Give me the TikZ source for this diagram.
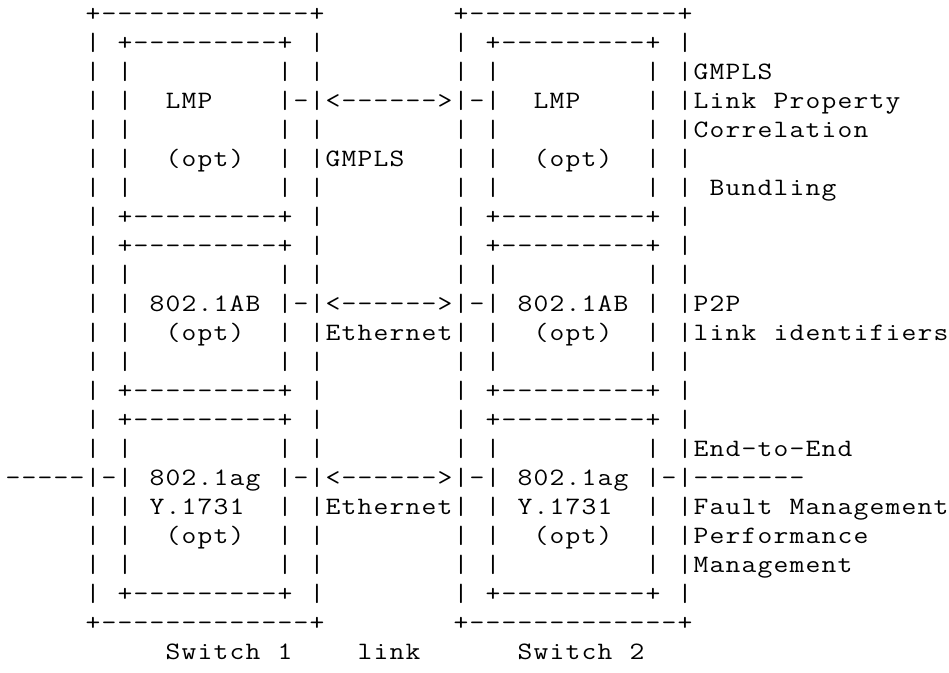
\documentclass[tikz,border=0pt]{standalone}
\usepackage{tikz}
\usepackage{graphicx}
\newcommand\cellbox[1]{\makebox[16pt][c]{\scalebox{1.15}[1]{#1}}}
\def\cellsA#1{\ifx#1\relax\else\cellbox{#1}\expandafter\cellsA\fi}
\newcommand\cells[1]{\cellsA#1\relax}
\tikzset{asc/.style={anchor=base west,inner sep=0pt,outer sep=0pt,font=\ttfamily\fontsize{25}{29}\selectfont}}
\begin{document}
\begin{tikzpicture}[x=1pt,y=1pt]
\useasboundingbox[fill=white] (0,-672) rectangle (949,0);
\node[asc] (r0)  at (5,-21)  {\cells{~~~~~+-------------+~~~~~~~~+-------------+}};
\node[asc] (r1)  at (5,-50)  {\cells{~~~~~|~+---------+~|~~~~~~~~|~+---------+~|}};
\node[asc] (r2)  at (5,-79)  {\cells{~~~~~|~|~~~~~~~~~|~|~~~~~~~~|~|~~~~~~~~~|~|GMPLS}};
\node[asc] (r3)  at (5,-108) {\cells{~~~~~|~|~~LMP~~~~|-|<------>|-|~~LMP~~~~|~|Link~Property}};
\node[asc] (r4)  at (5,-137) {\cells{~~~~~|~|~~~~~~~~~|~|~~~~~~~~|~|~~~~~~~~~|~|Correlation}};
\node[asc] (r5)  at (5,-166) {\cells{~~~~~|~|~~(opt)~~|~|GMPLS~~~|~|~~(opt)~~|~|}};
\node[asc] (r6)  at (5,-195) {\cells{~~~~~|~|~~~~~~~~~|~|~~~~~~~~|~|~~~~~~~~~|~|~Bundling}};
\node[asc] (r7)  at (5,-224) {\cells{~~~~~|~+---------+~|~~~~~~~~|~+---------+~|}};
\node[asc] (r8)  at (5,-253) {\cells{~~~~~|~+---------+~|~~~~~~~~|~+---------+~|}};
\node[asc] (r9)  at (5,-282) {\cells{~~~~~|~|~~~~~~~~~|~|~~~~~~~~|~|~~~~~~~~~|~|}};
\node[asc] (r10) at (5,-311) {\cells{~~~~~|~|~802.1AB~|-|<------>|-|~802.1AB~|~|P2P}};
\node[asc] (r11) at (5,-340) {\cells{~~~~~|~|~~(opt)~~|~|Ethernet|~|~~(opt)~~|~|link~identifiers}};
\node[asc] (r12) at (5,-369) {\cells{~~~~~|~|~~~~~~~~~|~|~~~~~~~~|~|~~~~~~~~~|~|}};
\node[asc] (r13) at (5,-398) {\cells{~~~~~|~+---------+~|~~~~~~~~|~+---------+~|}};
\node[asc] (r14) at (5,-427) {\cells{~~~~~|~+---------+~|~~~~~~~~|~+---------+~|}};
\node[asc] (r15) at (5,-456) {\cells{~~~~~|~|~~~~~~~~~|~|~~~~~~~~|~|~~~~~~~~~|~|End-to-End}};
\node[asc] (r16) at (5,-485) {\cells{-----|-|~802.1ag~|-|<------>|-|~802.1ag~|-|-------}};
\node[asc] (r17) at (5,-514) {\cells{~~~~~|~|~Y.1731~~|~|Ethernet|~|~Y.1731~~|~|Fault~Management}};
\node[asc] (r18) at (5,-543) {\cells{~~~~~|~|~~(opt)~~|~|~~~~~~~~|~|~~(opt)~~|~|Performance}};
\node[asc] (r19) at (5,-572) {\cells{~~~~~|~|~~~~~~~~~|~|~~~~~~~~|~|~~~~~~~~~|~|Management}};
\node[asc] (r20) at (5,-601) {\cells{~~~~~|~+---------+~|~~~~~~~~|~+---------+~|}};
\node[asc] (r21) at (5,-630) {\cells{~~~~~+-------------+~~~~~~~~+-------------+}};
\node[asc] (r22) at (5,-659) {\cells{~~~~~~~~~~Switch~1~~~~link~~~~~~Switch~2}};
\end{tikzpicture}
\end{document}
